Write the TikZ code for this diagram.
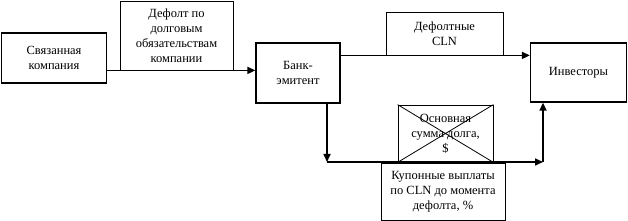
\documentclass[tikz,border=0pt]{standalone}
\usepackage{fontspec}
\setmainfont{Liberation Serif}
\usepackage{tikz}
\usetikzlibrary{arrows.meta,positioning,calc}

\begin{document}
\begin{tikzpicture}[
  x=1pt,y=-1pt,
  blk/.style={draw,line width=1.3pt,align=center,inner sep=2pt,font=\fontsize{12.5}{15}\selectfont},
  lbl/.style={draw,line width=0.8pt,align=center,inner sep=2pt,font=\fontsize{12.5}{15}\selectfont},
  ar/.style={line width=1.6pt,-{Triangle[length=8pt,width=7pt]}}
]
\useasboundingbox (0,0) rectangle (628,221);
\node[blk,minimum width=105pt,minimum height=50pt] (svyaz) at (54,58) {Связанная\\компания};
\node[blk,minimum width=84pt,minimum height=60pt] (bank) at (298,73) {Банк-\\эмитент};
\node[blk,minimum width=96pt,minimum height=59pt] (invest) at (578.5,72.5) {Инвесторы};
\node[lbl,minimum width=113pt,minimum height=69pt] (dflt) at (176.5,35.5) {Дефолт по\\долговым\\обязательствам\\компании};
\node[lbl,minimum width=117pt,minimum height=43pt] (cln) at (444.5,33.5) {Дефолтные\\CLN};
\node[lbl,minimum width=95pt,minimum height=57pt] (princ) at (445.5,133.5) {Основная\\сумма долга,\\\$};
\node[lbl,minimum width=124pt,minimum height=57pt] (coupon) at (443,191.5) {Купонные выплаты\\по CLN до момента\\дефолта, \%};
\draw[line width=0.8pt] (princ.north west) -- (princ.south east) (princ.north east) -- (princ.south west);
\coordinate (downl) at (327,162);
\coordinate (downr) at (543,162);
\draw[ar] (svyaz.east |- dflt.south) -- (bank.west |- dflt.south);
\draw[ar] (bank.east |- cln.south) -- (invest.west |- cln.south);
\draw[ar] (bank.south -| downl) -- (downl);
\draw[ar] (downl) -- (downr);
\draw[ar] (downr) -- (invest.south -| downr);
\end{tikzpicture}
\end{document}
